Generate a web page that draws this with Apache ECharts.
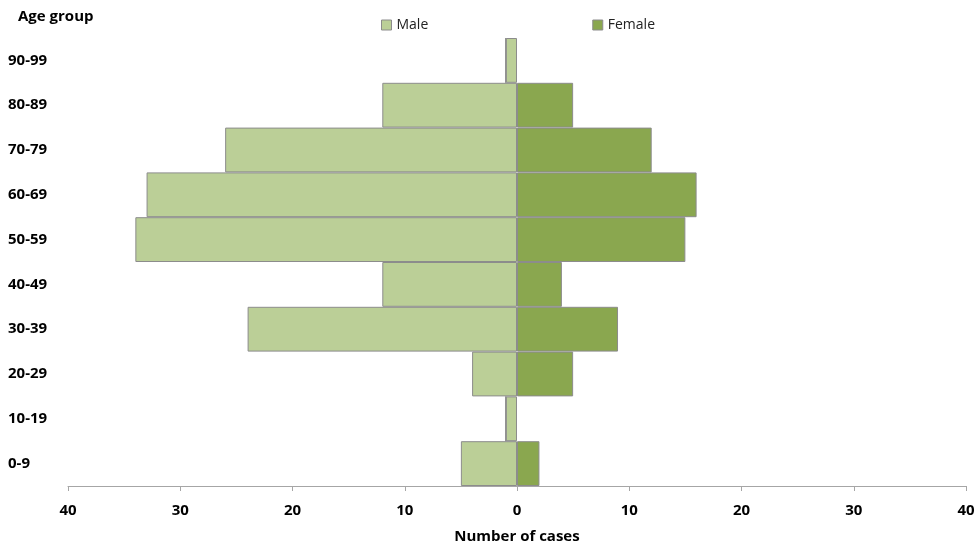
<!DOCTYPE html>
<html>
<head>
<meta charset="utf-8">
<script src="https://cdn.jsdelivr.net/npm/echarts@6/dist/echarts.min.js"></script>
<style>html,body{margin:0;padding:0;background:#fff}#c{width:977px;height:547px}</style>
</head>
<body>
<div id="c"></div>
<script>
const ageGroups = ['0-9','10-19','20-29','30-39','40-49','50-59','60-69','70-79','80-89','90-99'];
const maleCases = [5, 1, 4, 24, 12, 34, 33, 26, 12, 1];
const femaleCases = [2, 0, 5, 9, 4, 15, 16, 12, 5, 0];
const xTicks = [-40, -30, -20, -10, 0, 10, 20, 30, 40];

const chart = echarts.init(document.getElementById('c'));
const font = '"Open Sans", "Liberation Sans", sans-serif';
chart.setOption({
  animation: false,
  textStyle: { fontFamily: font },
  title: {
    text: 'Age group', left: 13, top: 4,
    textStyle: { fontSize: 15, fontWeight: 'bold', color: '#000', fontFamily: font }
  },
  legend: {
    top: 13, left: 376, itemGap: 164, itemWidth: 10, itemHeight: 10,
    icon: 'rect',
    textStyle: { fontSize: 14, color: '#222', fontFamily: font },
    data: [
      { name: 'Male', itemStyle: { color: '#BBCF97', borderColor: '#8c8c8c', borderWidth: 1 } },
      { name: 'Female', itemStyle: { color: '#8AA74F', borderColor: '#8c8c8c', borderWidth: 1 } }
    ]
  },
  grid: { left: 68, right: 11, top: 38, bottom: 61, containLabel: false, outerBoundsMode: 'none' },
  xAxis: {
    type: 'value', min: -40, max: 40, interval: 10,
    name: 'Number of cases', nameLocation: 'middle', nameGap: 43,
    nameTextStyle: { fontSize: 15, fontWeight: 'bold', color: '#000', fontFamily: font },
    axisLine: { show: true, lineStyle: { color: '#a6a6a6' } },
    axisTick: { show: true, length: 5, lineStyle: { color: '#a6a6a6' } },
    splitLine: { show: false },
    axisLabel: {
      fontSize: 15, fontWeight: 'bold', color: '#000', margin: 17, fontFamily: font,
      formatter: v => String(Math.abs(v))
    }
  },
  yAxis: {
    type: 'category', data: ageGroups,
    axisLine: { show: false }, axisTick: { show: false },
    axisLabel: { fontSize: 15, fontWeight: 'bold', color: '#000', align: 'left', margin: 60, fontFamily: font }
  },
  series: [
    {
      name: 'Male', type: 'bar', stack: 'a', barCategoryGap: 0,
      data: maleCases.map(v => -v),
      itemStyle: { color: '#BBCF97', borderColor: '#8c8c8c', borderWidth: 1 }
    },
    {
      name: 'Female', type: 'bar', stack: 'a', barCategoryGap: 0,
      data: femaleCases,
      itemStyle: { color: '#8AA74F', borderColor: '#8c8c8c', borderWidth: 1 }
    }
  ]
});
</script>
</body>
</html>
